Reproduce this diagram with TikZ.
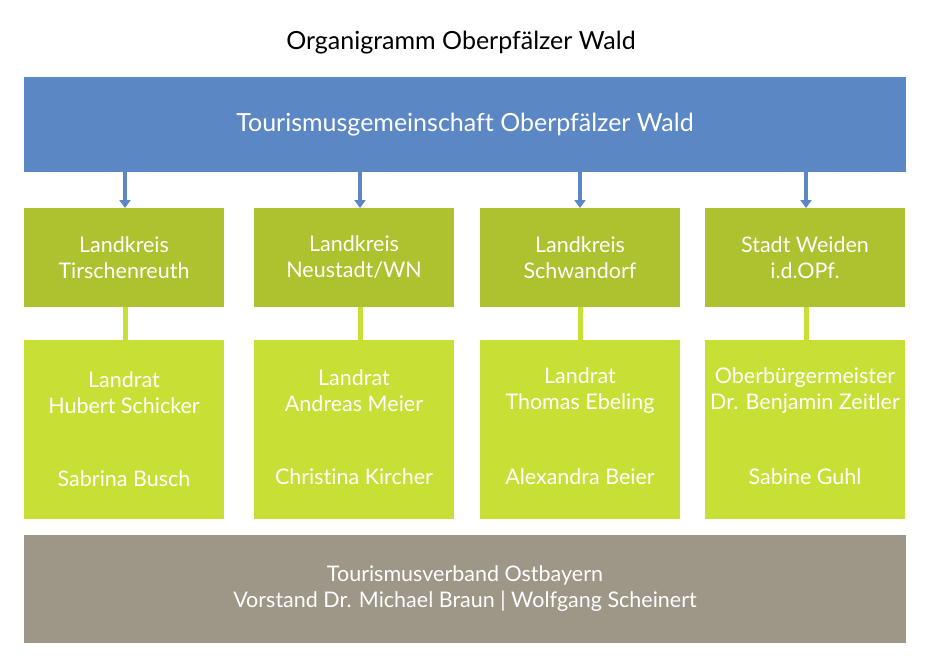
\documentclass[tikz,border=0pt]{standalone}
\usepackage{fontspec}
\setmainfont{Lato}[Ligatures={NoCommon}]
\usetikzlibrary{arrows.meta}
\definecolor{tblue}{HTML}{5B87C5}
\definecolor{tdgreen}{HTML}{AEC12E}
\definecolor{tlgreen}{HTML}{C8DF36}
\definecolor{tgrey}{HTML}{9E9687}
\begin{document}
\begin{tikzpicture}[x=1pt,y=-1pt,
  box/.style={inner sep=0pt,outer sep=0pt,text=white,align=center,font=\fontsize{21.5}{26}\selectfont},
  arr/.style={draw=tblue,line width=4pt,-{Triangle[width=11pt,length=8pt]}},
  link/.style={draw=tlgreen,line width=5pt}]
\useasboundingbox (0,0) rectangle (933,658);
\node[font=\fontsize{25}{28}\selectfont] (title) at (461,43) {Organigramm Oberpfälzer Wald};
\node[box,fill=tblue,minimum width=882pt,minimum height=95pt,font=\fontsize{25}{28}\selectfont] (top) at (465,124.5) {Tourismusgemeinschaft Oberpfälzer Wald};
% district boxes
\node[box,fill=tdgreen,minimum width=200pt,minimum height=99pt] (d1) at (124,257.5) {Landkreis\\Tirschenreuth};
\node[box,fill=tdgreen,minimum width=200pt,minimum height=99pt] (d2) at (354,257.5) {Landkreis\\Neustadt/WN};
\node[box,fill=tdgreen,minimum width=200pt,minimum height=99pt] (d3) at (580,257.5) {Landkreis\\Schwandorf};
\node[box,fill=tdgreen,minimum width=200pt,minimum height=99pt] (d4) at (805,257.5) {Stadt Weiden\\i.d.OPf.};
% person boxes
\node[box,fill=tlgreen,minimum width=200pt,minimum height=179pt] (p1) at (124,429.5) {};
\node[box,fill=tlgreen,minimum width=200pt,minimum height=179pt] (p2) at (354,429.5) {};
\node[box,fill=tlgreen,minimum width=200pt,minimum height=179pt] (p3) at (580,429.5) {};
\node[box,fill=tlgreen,minimum width=200pt,minimum height=179pt] (p4) at (805,429.5) {};
\node[box] (p1a) at (124,393) {Landrat\\Hubert Schicker};
\node[box] (p1b) at (124,479) {Sabrina Busch};
\node[box] (p2a) at (354,391) {Landrat\\Andreas Meier};
\node[box] (p2b) at (354,477) {Christina Kircher};
\node[box] (p3a) at (580,391) {Landrat\\Thomas Ebeling};
\node[box] (p3b) at (580,477) {Alexandra Beier};
\node[box] (p4a) at (805,391) {Oberbürgermeister\\Dr. Benjamin Zeitler};
\node[box] (p4b) at (805,477) {Sabine Guhl};
% bottom
\node[box,fill=tgrey,minimum width=882pt,minimum height=108pt] (bot) at (465,589) {Tourismusverband Ostbayern\\Vorstand Dr. Michael Braun | Wolfgang Scheinert};
% arrows
\draw[arr] (top.south -| 125,0) -- (d1.north -| 125,0);
\draw[arr] (top.south -| 360,0) -- (d2.north -| 360,0);
\draw[arr] (top.south -| 580,0) -- (d3.north -| 580,0);
\draw[arr] (top.south -| 806,0) -- (d4.north -| 806,0);
\draw[link] (d1.south -| 125,0) -- (p1.north -| 125,0);
\draw[link] (d2.south -| 360,0) -- (p2.north -| 360,0);
\draw[link] (d3.south -| 580,0) -- (p3.north -| 580,0);
\draw[link] (d4.south -| 806,0) -- (p4.north -| 806,0);
\end{tikzpicture}
\end{document}
